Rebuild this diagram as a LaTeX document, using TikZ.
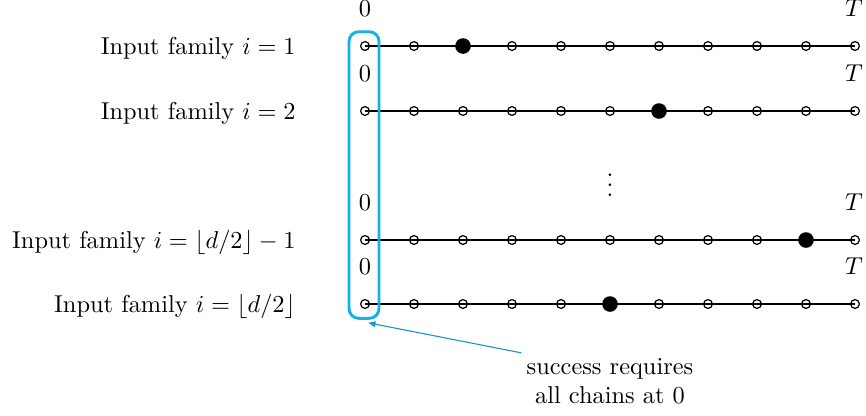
\documentclass[tikz,border=0pt]{standalone}
\usetikzlibrary{arrows.meta}
\definecolor{boxblue}{RGB}{22,176,230}
\definecolor{arrowblue}{RGB}{20,150,205}
\begin{document}
\begin{tikzpicture}[x=0.41pt,y=-0.41pt,
  opendot/.style={circle,draw,line width=0.5pt,inner sep=0pt,minimum size=3.6pt},
  fulldot/.style={circle,fill,inner sep=0pt,minimum size=6.4pt},
  chainline/.style={line width=0.8pt},
  rowlabel/.style={anchor=base east,inner sep=0pt},
  endlabel/.style={anchor=base,inner sep=0pt},
  famblock/.style={draw=boxblue,line width=1.2pt,rounded corners=4pt,inner sep=0pt,
    minimum width=12.3pt,minimum height=117.5pt},
  notetext/.style={align=center,inner sep=2pt}]
\useasboundingbox (0,0) rectangle (866,415);
% chains
\foreach \r/\y/\f in {1/46/2,2/111/6,3/240/9,4/304/5}{
  \foreach \k in {0,...,10}{
    \ifnum\k=\f
      \node[fulldot] (r\r n\k) at ({365+49*\k},\y) {};
    \else
      \node[opendot] (r\r n\k) at ({365+49*\k},\y) {};
    \fi
  }
  \draw[chainline] (r\r n0.center) -- (r\r n10.center);
  \node[endlabel] (z\r) at (365,\y-30) {$0$};
  \node[endlabel] (t\r) at (854,\y-30) {$T$};
}
% row labels
\node[rowlabel] (lab1) at (296,54) {Input family $i=1$};
\node[rowlabel] (lab2) at (296,119) {Input family $i=2$};
\node[rowlabel] (lab3) at (296,248) {Input family $i=\lfloor d/2\rfloor-1$};
\node[rowlabel] (lab4) at (296,312) {Input family $i=\lfloor d/2\rfloor$};
% vertical dots
\node[inner sep=0pt] (vd) at (610,178) {$\vdots$};
% box around the first column
\node[famblock] (box) at (364,175) {};
% note
\node[notetext] (note) at (610,381) {success requires\\all chains at $0$};
\draw[arrowblue,line width=0.45pt,-{Latex[length=3.2pt,width=2.6pt]}] (note.north west) -- ([xshift=1.5pt,yshift=-1.2pt]box.south);
\end{tikzpicture}
\end{document}
